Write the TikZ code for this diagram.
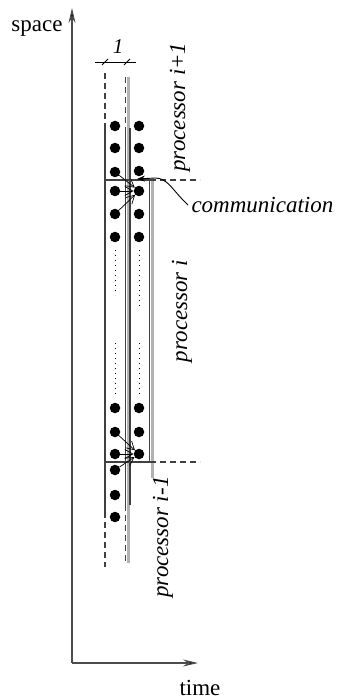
\documentclass[tikz,border=0pt]{standalone}
\usepackage{fontspec}
\setmainfont{Liberation Serif}
\usetikzlibrary{arrows.meta}

\begin{document}
\begin{tikzpicture}[
                    x=1pt,
                    y=-1pt,
                    every node/.style={
                        font=\fontsize{23}{27}\selectfont
                    },
                    site/.style={
                        circle,
                        fill=black,
                        inner sep=0pt,
                        minimum size=10.5pt
                    },
                    proclabel/.style={
                        rotate=90,
                        anchor=base,
                        font=\fontsize{23}{27}\selectfont\itshape
                    },
                    axis/.style={
                        draw=black!70,
                        line width=1.2pt,
                        -{Stealth[length=15pt,width=7pt,fill=black]}
                    },
                    boundary/.style={
                        draw=black!75,
                        line width=1.2pt
                    },
                    broken/.style={
                        boundary,
                        dash pattern=on 6pt off 4pt
                    },
                    shade/.style={
                        fill=black!30,
                        draw=none
                    },
                    sparse/.style={
                        line width=1pt,
                        dash pattern=on 1pt off 4pt
                    },
                    message/.style={
                        line width=0.7pt,
                        -{Straight Barb[length=8pt,width=9pt]}
                    }
                ]
                    \useasboundingbox (0,0) rectangle (338,700);
                    % axes
                    \coordinate (origin) at (72,663);
                    \coordinate (spacetip) at (72,8);
                    \coordinate (timetip) at (198,663);
                    \draw[axis] (origin) -- (spacetip);
                    \draw[axis] (origin) -- (timetip);
                    \node (space) at (37,29) {space};
                    \node (time) at (200,688) {time};
                    % width of one step
                    \coordinate (dimleft) at (95,62);
                    \coordinate (dimright) at (136,62);
                    \draw[line width=0.9pt] (dimleft) -- (dimright);
                    \draw[line width=0.9pt] (102,65) -- (108,59) (124,65) -- (130,59);
                    \node[font=\fontsize{21}{24}\selectfont\itshape] (step) at (118,47) {1};
                    % grey bars
                    \fill[shade] (126.5,77) rectangle (129.5,563);
                    \fill[shade] (150.5,180) rectangle (154,478);
                    % left column
                    \draw[broken] (105,73) -- (105,128);
                    \draw[boundary] (105,128) -- (105,512);
                    \draw[broken] (105,512) -- (105,567);
                    % middle
                    \draw[broken] (125.5,77) -- (125.5,128);
                    \draw[boundary] (125.5,128) -- (125.5,505);
                    \draw[broken] (125.5,505) -- (125.5,563);
                    \draw[boundary] (130,128) -- (130,505);
                    % right column of processor i
                    \draw[boundary] (149.5,180) -- (149.5,462);
                    \draw[boundary] (105,180) -- (150,180);
                    \draw[boundary] (105,462) -- (150,462);
                    \draw[broken] (150,180) -- (200,180);
                    \draw[broken] (150,462) -- (200,462);
                    % sites
                    \foreach \y [count=\i] in {126,148,172,191,214,237,408,432,454,470,495,517}
                        \node[site] (l\i) at (115,\y) {};
                    \foreach \y [count=\i] in {126,148,171,191,214,237,408,432,454}
                        \node[site] (r\i) at (139,\y) {};
                    \draw[sparse] (115,250) -- (115,295) (115,343) -- (115,395);
                    \draw[sparse] (139,250) -- (139,306) (139,343) -- (139,395);
                    % messages
                    \foreach \i in {3,4,5}
                        \draw[message] (l\i) -- (r4);
                    \foreach \i in {8,9,10}
                        \draw[message] (l\i) -- (r9);
                    % labels
                    \node[proclabel] (upper) at (185,107) {processor i+1};
                    \node[proclabel] (middle) at (187,311) {processor i};
                    \node[proclabel] (lower) at (168,537) {processor i-1};
                    \node[anchor=west,font=\fontsize{23}{27}\selectfont\itshape] (comm) at (188,205) {communication};
                    \coordinate (commpoint) at (137,179);
                    \draw[line width=0.9pt,-{Stealth[length=8pt,width=6pt]}] (comm.west) .. controls (172,190) and (168,178) .. (155,178) -- (commpoint);
                \end{tikzpicture}
\end{document}
